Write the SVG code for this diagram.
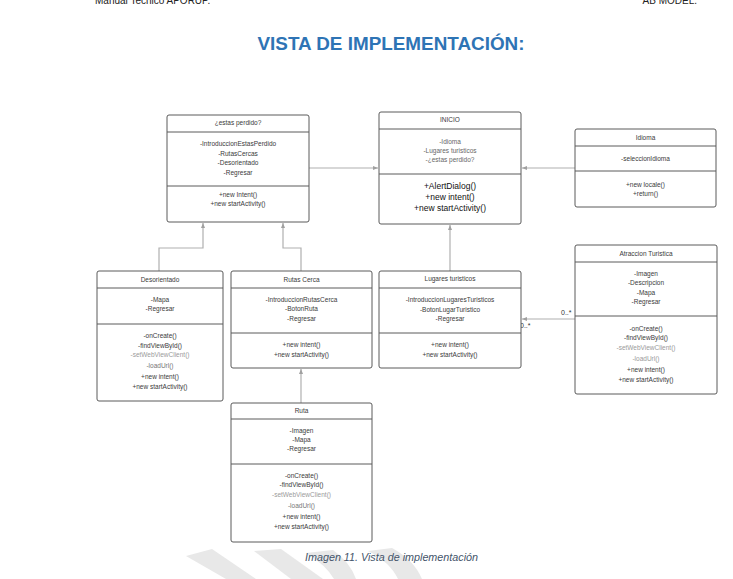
<svg xmlns="http://www.w3.org/2000/svg" width="733" height="579" viewBox="0 0 733 579">
<style>
.box{fill:#fff;stroke:#5a5a5a;stroke-width:1}
.div{stroke:#5a5a5a;stroke-width:1}
.t{font-family:"Liberation Sans",Arial,sans-serif;font-size:6.5px;fill:#3a3a3a;text-anchor:middle}
.lt{fill:#9a9a9a}
.big{font-size:8.5px;fill:#111}
.con{fill:none;stroke:#b0b0b0;stroke-width:1.2}
.lbl{font-family:"Liberation Sans",Arial,sans-serif;font-size:7px;fill:#333}
.wm{fill:#e8e8e8}
</style>
<defs>
<marker id="ah" viewBox="0 0 10 10" refX="10" refY="5" markerWidth="5" markerHeight="5" orient="auto" markerUnits="userSpaceOnUse">
<path d="M0,1 L10,5 L0,9 z" fill="#a0a0a0"/>
</marker>
</defs>
<rect width="733" height="579" fill="#fff"/>
<g id="watermark">
<polygon class="wm" points="186,556 212,549 256,579 226,579"/>
<polygon class="wm" points="254,551 281,549 323,579 291,579"/>
<path class="wm" d="M306,553 L333,550 Q350,562 356,579 L334,579 Q326,565 306,553 z"/>
<path class="wm" d="M368,551 L392,548 Q414,560 422,579 L398,579 Q390,562 368,551 z"/>
</g>
<g id="header">
<text x="95" y="4" style="font-family:'Liberation Sans',Arial,sans-serif;font-size:10px;fill:#222">Manual Tecnico APORUP.</text>
<text x="697" y="4" style="font-family:'Liberation Sans',Arial,sans-serif;font-size:10px;fill:#222;text-anchor:end">AB MODEL.</text>
<text x="391" y="50" textLength="267" lengthAdjust="spacingAndGlyphs" style="font-family:'Liberation Sans',Arial,sans-serif;font-size:19px;font-weight:bold;fill:#2E74B5;text-anchor:middle">VISTA DE IMPLEMENTACIÓN:</text>
</g>
<g id="connectors">
<line class="con" x1="309" y1="168" x2="378" y2="168" marker-end="url(#ah)"/>
<line class="con" x1="575" y1="168" x2="522" y2="168" marker-end="url(#ah)"/>
<line class="con" x1="450" y1="271" x2="450" y2="225" marker-end="url(#ah)"/>
<path class="con" d="M159,271 V248 H203 V223" marker-end="url(#ah)"/>
<path class="con" d="M301,271 V248 H283 V223" marker-end="url(#ah)"/>
<line class="con" x1="301" y1="403" x2="301" y2="369" marker-end="url(#ah)"/>
<line class="con" x1="575" y1="319" x2="522" y2="319" marker-end="url(#ah)"/>
<text class="lbl" x="561" y="315">0..*</text>
<text class="lbl" x="520" y="328">0..*</text>
</g>
<g id="perdido">
<rect class="box" x="167" y="115" width="142" height="107" rx="2"/>
<line class="div" x1="167" y1="132" x2="309" y2="132"/>
<line class="div" x1="167" y1="186" x2="309" y2="186"/>
<text class="t" x="238" y="125">¿estas perdido?</text>
<text class="t" x="238" y="146">-IntroduccionEstasPerdido</text>
<text class="t" x="238" y="155.5">-RutasCercas</text>
<text class="t" x="238" y="165">-Desorientado</text>
<text class="t" x="238" y="174.5">-Regresar</text>
<text class="t" x="238" y="196.5">+new Intent()</text>
<text class="t" x="238" y="206">+new startActivity()</text>
</g>
<g id="inicio">
<rect class="box" x="379" y="112" width="142" height="112" rx="2"/>
<line class="div" x1="379" y1="129" x2="521" y2="129"/>
<line class="div" x1="379" y1="174" x2="521" y2="174"/>
<text class="t" x="450" y="122">INICIO</text>
<text class="t" x="450" y="143.5" style="fill:#666">-Idioma</text>
<text class="t" x="450" y="152.5" style="fill:#666">-Lugares turisticos</text>
<text class="t" x="450" y="162" style="fill:#666">-¿estas perdido?</text>
<text class="t big" x="450" y="189">+AlertDialog()</text>
<text class="t big" x="450" y="200">+new intent()</text>
<text class="t big" x="450" y="211">+new startActivity()</text>
</g>
<g id="idioma">
<rect class="box" x="575" y="129" width="141" height="78" rx="2"/>
<line class="div" x1="575" y1="146" x2="716" y2="146"/>
<line class="div" x1="575" y1="171" x2="716" y2="171"/>
<text class="t" x="645.5" y="139.5">Idioma</text>
<text class="t" x="645.5" y="160.5">-seleccionIdioma</text>
<text class="t" x="645.5" y="187">+new locale()</text>
<text class="t" x="645.5" y="196">+return()</text>
</g>
<g id="desorientado">
<rect class="box" x="97" y="271" width="126" height="130" rx="2"/>
<line class="div" x1="97" y1="288" x2="223" y2="288"/>
<line class="div" x1="97" y1="324" x2="223" y2="324"/>
<text class="t" x="160" y="281.5">Desorientado</text>
<text class="t" x="160" y="301.5">-Mapa</text>
<text class="t" x="160" y="311">-Regresar</text>
<text class="t" x="160" y="338">-onCreate()</text>
<text class="t" x="160" y="347.5">-findViewById()</text>
<text class="t lt" x="160" y="357">-setWebViewClient()</text>
<text class="t" x="160" y="367.5" style="fill:#777">-loadUrl()</text>
<text class="t" x="160" y="379">+new intent()</text>
<text class="t" x="160" y="388.5">+new startActivity()</text>
</g>
<g id="rutascerca">
<rect class="box" x="231" y="271" width="141" height="97" rx="2"/>
<line class="div" x1="231" y1="288" x2="372" y2="288"/>
<line class="div" x1="231" y1="333" x2="372" y2="333"/>
<text class="t" x="301.5" y="281.5">Rutas Cerca</text>
<text class="t" x="301.5" y="301.5">-IntroduccionRutasCerca</text>
<text class="t" x="301.5" y="311">-BotonRuta</text>
<text class="t" x="301.5" y="321">-Regresar</text>
<text class="t" x="301.5" y="347">+new intent()</text>
<text class="t" x="301.5" y="356.5">+new startActivity()</text>
</g>
<g id="lugares">
<rect class="box" x="379" y="271" width="142" height="97" rx="2"/>
<line class="div" x1="379" y1="288" x2="521" y2="288"/>
<line class="div" x1="379" y1="333" x2="521" y2="333"/>
<text class="t" x="450" y="281">Lugares turisticos</text>
<text class="t" x="450" y="302">-IntroduccionLugaresTuristicos</text>
<text class="t" x="450" y="311.5">-BotonLugarTuristico</text>
<text class="t" x="450" y="321">-Regresar</text>
<text class="t" x="450" y="347">+new intent()</text>
<text class="t" x="450" y="356.5">+new startActivity()</text>
</g>
<g id="atraccion">
<rect class="box" x="575" y="245" width="142" height="149" rx="2"/>
<line class="div" x1="575" y1="262" x2="717" y2="262"/>
<line class="div" x1="575" y1="316" x2="717" y2="316"/>
<text class="t" x="646" y="255.5">Atraccion Turistica</text>
<text class="t" x="646" y="275.5">-Imagen</text>
<text class="t" x="646" y="285">-Descripcion</text>
<text class="t" x="646" y="294.5">-Mapa</text>
<text class="t" x="646" y="304">-Regresar</text>
<text class="t" x="646" y="330.5">-onCreate()</text>
<text class="t" x="646" y="340">-findViewById()</text>
<text class="t lt" x="646" y="349.5">-setWebViewClient()</text>
<text class="t lt" x="646" y="360.5">-loadUrl()</text>
<text class="t" x="646" y="372">+new intent()</text>
<text class="t" x="646" y="381.5">+new startActivity()</text>
</g>
<g id="ruta">
<rect class="box" x="231" y="403" width="141" height="139" rx="2"/>
<line class="div" x1="231" y1="419" x2="372" y2="419"/>
<line class="div" x1="231" y1="464" x2="372" y2="464"/>
<text class="t" x="301.5" y="412.5">Ruta</text>
<text class="t" x="301.5" y="433">-Imagen</text>
<text class="t" x="301.5" y="442">-Mapa</text>
<text class="t" x="301.5" y="451">-Regresar</text>
<text class="t" x="301.5" y="477.5">-onCreate()</text>
<text class="t" x="301.5" y="487">-findViewById()</text>
<text class="t lt" x="301.5" y="496.5">-setWebViewClient()</text>
<text class="t" x="301.5" y="507.5" style="fill:#777">-loadUrl()</text>
<text class="t" x="301.5" y="519">+new intent()</text>
<text class="t" x="301.5" y="528.5">+new startActivity()</text>
</g>
<text x="305" y="561" textLength="173" lengthAdjust="spacingAndGlyphs" style="font-family:'Liberation Sans',Arial,sans-serif;font-size:10.3px;font-style:italic;fill:#44546A">Imagen 11. Vista de implementación</text>
</svg>
